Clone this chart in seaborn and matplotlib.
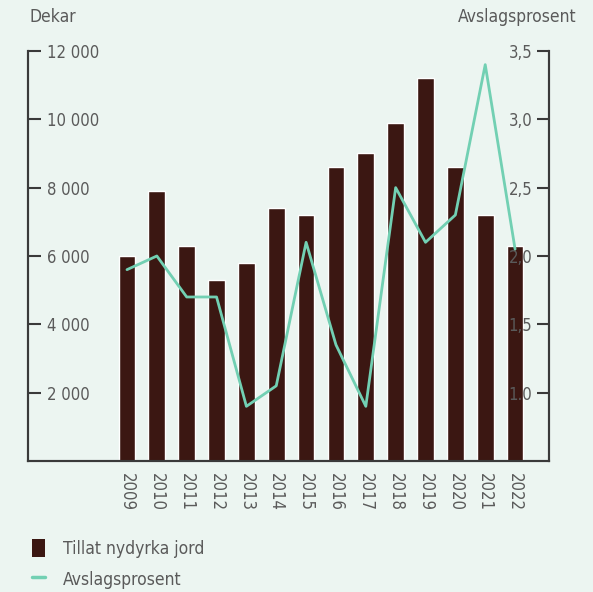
import matplotlib
matplotlib.use("Agg")
import matplotlib.pyplot as plt
import seaborn as sns
import numpy as np
import pandas as pd
from matplotlib.lines import Line2D
from matplotlib.patches import Patch

years = ["2009", "2010", "2011", "2012", "2013", "2014", "2015",
         "2016", "2017", "2018", "2019", "2020", "2021", "2022"]
dekar = [6000, 7900, 6300, 5300, 5800, 7400, 7200,
         8600, 9000, 9900, 11200, 8600, 7200, 6300]
avslag = [1.9, 2.0, 1.7, 1.7, 0.9, 1.05, 2.1,
          1.35, 0.9, 2.5, 2.1, 2.3, 3.4, 2.05]
left_ticks = [2000, 4000, 6000, 8000, 10000, 12000]
left_labels = ["2 000", "4 000", "6 000", "8 000", "10 000", "12 000"]
right_ticks = [1.0, 1.5, 2.0, 2.5, 3.0, 3.5]
right_labels = ["1.0", "1,5", "2,0", "2,5", "3,0", "3,5"]

bg = "#ecf5f1"
bar_color = "#3b1712"
line_color = "#72d0b3"
text_color = "#5a5a5a"
spine_color = "#3a3a3a"

sns.set_theme(style="white")
plt.rcParams["font.family"] = ["DejaVu Sans"]
plt.rcParams["font.stretch"] = "condensed"

df = pd.DataFrame({"year": years, "dekar": dekar, "avslag": avslag,
                   "pos": np.arange(len(years))})

fig = plt.figure(figsize=(5.93, 5.92), dpi=100, facecolor=bg)
ax = fig.add_axes([0.047, 0.2213, 0.879, 0.6926])
ax.set_facecolor(bg)

sns.barplot(data=df, x="year", y="dekar", order=years, color=bar_color,
            width=0.56, edgecolor="white", linewidth=1.0, saturation=1,
            ax=ax)
ax.set_xlim(-3.32, 14.14)
ax.set_ylim(0, 12000)
ax.set_xlabel("")
ax.set_ylabel("")

ax2 = ax.twinx()
sns.lineplot(data=df, x="pos", y="avslag", color=line_color, linewidth=2.0,
             ax=ax2)
ax2.set_ylim(0.5, 3.5)
ax2.set_xlim(-3.32, 14.14)
ax2.set_xlabel("")
ax2.set_ylabel("")

for a in (ax, ax2):
    a.spines["top"].set_visible(False)
    for s in ("left", "right", "bottom"):
        a.spines[s].set_color(spine_color)
        a.spines[s].set_linewidth(1.5)

ax.set_yticks(left_ticks)
ax.set_yticklabels(left_labels)
ax.tick_params(axis="y", direction="in", length=9, width=1.5,
               color=spine_color, pad=-14, labelsize=12, labelcolor=text_color,
               left=True)
for lab in ax.get_yticklabels():
    lab.set_ha("left")

ax2.set_yticks(right_ticks)
ax2.set_yticklabels(right_labels)
ax2.tick_params(axis="y", direction="in", length=9, width=1.5,
                color=spine_color, pad=-12, labelsize=12, labelcolor=text_color,
                right=True)
for lab in ax2.get_yticklabels():
    lab.set_ha("right")

ax.tick_params(axis="x", length=0, pad=9, labelsize=12, labelcolor=text_color)
for lab in ax.get_xticklabels():
    lab.set_rotation(-90)
    lab.set_va("top")
    lab.set_ha("center")

fig.text(0.05, 0.972, "Dekar", fontsize=12.5, color=text_color, va="center")
fig.text(0.972, 0.972, "Avslagsprosent", fontsize=12.5, color=text_color,
         va="center", ha="right")

handles = [Patch(facecolor=bar_color, edgecolor="none"),
           Line2D([0], [0], color=line_color, linewidth=2.5)]
leg = fig.legend(handles, ["Tillat nydyrka jord", "Avslagsprosent"],
                 loc="upper left", bbox_to_anchor=(0.027, 0.116),
                 frameon=False, fontsize=12.5, handlelength=0.75,
                 handleheight=1.2, handletextpad=1.05, labelspacing=0.7,
                 labelcolor=text_color)

fig.savefig("out.png", dpi=100, facecolor=bg)
